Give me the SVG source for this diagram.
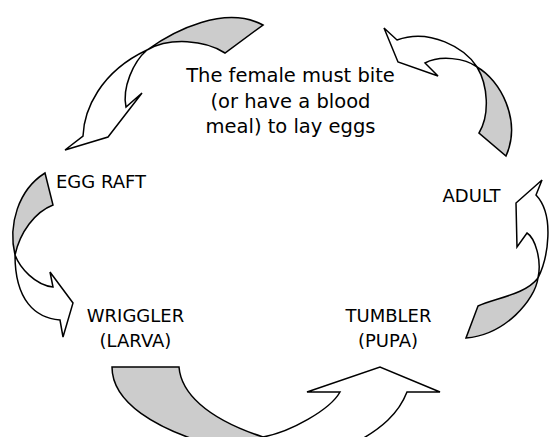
<svg xmlns="http://www.w3.org/2000/svg" width="549" height="437" viewBox="0 0 549 437">
<style>
.bg{fill:#ffffff}
.back{fill:#cccccc;stroke:#000;stroke-width:1.5;stroke-linejoin:miter}
.front{fill:#ffffff;stroke:#000;stroke-width:1.5;stroke-linejoin:miter}
.lbl{font-family:"DejaVu Sans",Verdana,sans-serif;font-size:18px;fill:#000;text-anchor:middle}
.note{font-family:"DejaVu Sans",Verdana,sans-serif;font-size:19.5px;fill:#000;text-anchor:middle}
</style>
<rect class="bg" x="0" y="0" width="549" height="437"/>
<g id="connectors">
  <g id="arrow-adult-to-egg">
    <path class="back" d="M147,50 C175,30 225,5 263,25 L225,53 C205,40 170,37 147,50 Z"/>
    <path class="front" d="M147,50 C133,62 122,88 126,107 L142,93 L108,137 L65,150 L83,136 C84,110 100,72 147,50 Z"/>
  </g>
  <g id="arrow-egg-to-wriggler">
    <path class="back" d="M45,173 L53,205 C35,212 20,232 15,255 C8,225 18,190 45,173 Z"/>
    <path class="front" d="M15,255 C20,268 35,285 53,287 L50,272 L73,303 L63,337 L60,320 C35,318 15,300 15,255 Z"/>
  </g>
  <g id="arrow-wriggler-to-tumbler">
    <path class="back" d="M112,367 L179,367 C181,392 205,418 263,437 L263,450 L230,450 C150,430 112,400 112,367 Z"/>
    <path class="front" d="M263,437 C290,432 330,410 340,392 L307,392 L380,367 L440,392 L407,392 C400,410 385,430 340,450 L263,450 Z"/>
  </g>
  <g id="arrow-tumbler-to-adult">
    <path class="back" d="M538,278 C535,300 505,335 466,338 L478,306 C495,298 525,295 538,278 Z"/>
    <path class="front" d="M538,278 C548,258 555,215 536,195 L542,180 L516,203 L517,247 L527,233 C535,238 542,260 538,278 Z"/>
  </g>
  <g id="arrow-adult-bite">
    <path class="back" d="M477,67 C500,80 522,120 506,156 L479,133 C490,115 488,85 477,67 Z"/>
    <path class="front" d="M477,67 C465,48 430,28 397,40 L384,28 L398,62 L438,76 L425,63 C440,55 465,58 477,67 Z"/>
  </g>
</g>
<g id="node-note">
  <text class="note" x="290.5" y="82">The female must bite</text>
  <text class="note" x="290.5" y="107.5">(or have a blood</text>
  <text class="note" x="290.5" y="133">meal) to lay eggs</text>
</g>
<g id="node-egg-raft">
  <text class="lbl" x="101" y="188">EGG RAFT</text>
</g>
<g id="node-adult">
  <text class="lbl" x="471.5" y="201.5">ADULT</text>
</g>
<g id="node-wriggler">
  <text class="lbl" x="135.5" y="321.5">WRIGGLER</text>
  <text class="lbl" x="135.5" y="346.5">(LARVA)</text>
</g>
<g id="node-tumbler">
  <text class="lbl" x="388.5" y="321.5">TUMBLER</text>
  <text class="lbl" x="388" y="346.5">(PUPA)</text>
</g>
</svg>
